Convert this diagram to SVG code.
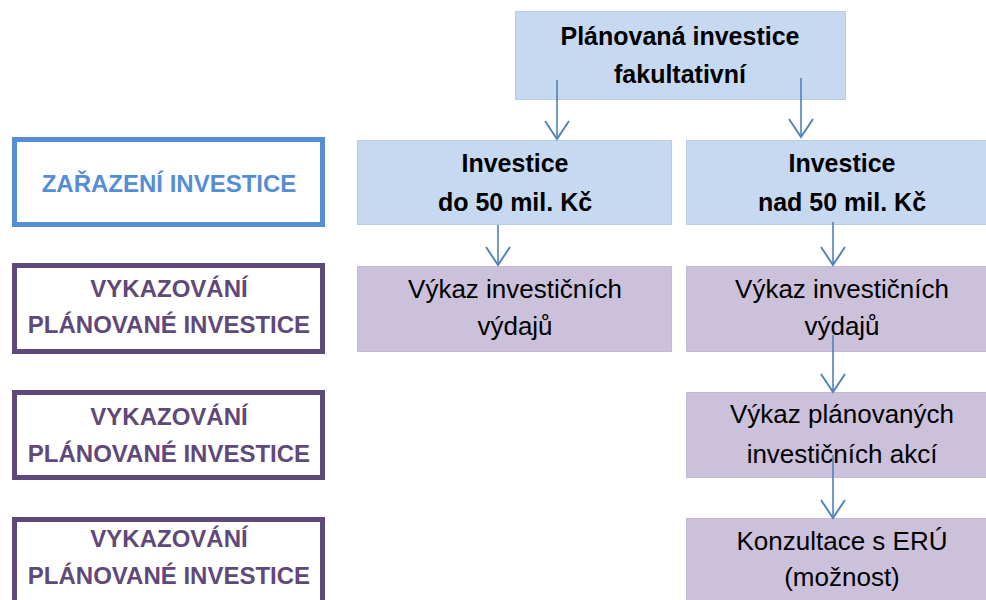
<svg xmlns="http://www.w3.org/2000/svg" width="986" height="600" viewBox="0 0 986 600">
<style>
.bb{fill:#c6d9f1;stroke:#b8cde6;stroke-width:1}
.pb{fill:#ccc1da;stroke:#c4b8d4;stroke-width:1}
.lb{fill:#fff;stroke:#558ed5;stroke-width:5}
.lp{fill:#fff;stroke:#5f497a;stroke-width:5}
text{font-family:"Liberation Sans",Arial,sans-serif;font-size:26px;text-anchor:middle;fill:#000}
.b{font-weight:bold;font-size:25px}
.tb{fill:#558ed5;font-weight:bold;font-size:24px}
.tp{fill:#5f497a;font-weight:bold;font-size:24px}
.c line{stroke:#4f81bd;stroke-width:1.6;marker-end:url(#ah)}
</style>
<defs>
<marker id="ah" markerWidth="20" markerHeight="24" refX="15" refY="10" orient="auto" markerUnits="userSpaceOnUse" viewBox="0 0 16 20" overflow="visible">
<polyline points="0,0 15,10 0,20" fill="none" stroke="#4f81bd" stroke-width="1.6"/>
</marker>
</defs>
<rect width="986" height="600" fill="#fff"/>
<g id="n-top"><rect class="bb" x="515.5" y="11.5" width="330" height="88"/><text class="b" x="680" y="45">Plánovaná investice</text><text class="b" x="680" y="83">fakultativní</text></g>
<g id="n-do50"><rect class="bb" x="357.5" y="140.5" width="314" height="84"/><text class="b" x="515" y="172">Investice</text><text class="b" x="515" y="211">do 50 mil. Kč</text></g>
<g id="n-nad50"><rect class="bb" x="686.5" y="140.5" width="312" height="84"/><text class="b" x="842" y="172">Investice</text><text class="b" x="842" y="211">nad 50 mil. Kč</text></g>
<g id="n-vyk1"><rect class="pb" x="357.5" y="266.5" width="314" height="85"/><text x="515" y="298">Výkaz investičních</text><text x="515" y="335">výdajů</text></g>
<g id="n-vyk2"><rect class="pb" x="686.5" y="266.5" width="312" height="85"/><text x="842" y="298">Výkaz investičních</text><text x="842" y="335">výdajů</text></g>
<g id="n-vyk3"><rect class="pb" x="686.5" y="392.5" width="312" height="85"/><text x="842" y="423">Výkaz plánovaných</text><text x="842" y="463">investičních akcí</text></g>
<g id="n-konz"><rect class="pb" x="686.5" y="518.5" width="312" height="90"/><text x="842" y="550">Konzultace s ERÚ</text><text x="842" y="586">(možnost)</text></g>
<g id="l-zar"><rect class="lb" x="14.5" y="139.5" width="308" height="85"/><text class="tb" x="169" y="192">ZAŘAZENÍ INVESTICE</text></g>
<g id="l-vyk1"><rect class="lp" x="14.5" y="265.5" width="308" height="86"/><text class="tp" x="169" y="297">VYKAZOVÁNÍ</text><text class="tp" x="169" y="333">PLÁNOVANÉ INVESTICE</text></g>
<g id="l-vyk2"><rect class="lp" x="14.5" y="392.5" width="308" height="85"/><text class="tp" x="169" y="425">VYKAZOVÁNÍ</text><text class="tp" x="169" y="462">PLÁNOVANÉ INVESTICE</text></g>
<g id="l-vyk3"><rect class="lp" x="14.5" y="519.5" width="308" height="90"/><text class="tp" x="169" y="547">VYKAZOVÁNÍ</text><text class="tp" x="169" y="584">PLÁNOVANÉ INVESTICE</text></g>
<g class="c" id="connectors">
<line x1="557" y1="80" x2="557" y2="139"/>
<line x1="801" y1="78" x2="801" y2="137"/>
<line x1="498" y1="225" x2="498" y2="265"/>
<line x1="833" y1="222" x2="833" y2="265"/>
<line x1="833" y1="335" x2="833" y2="392"/>
<line x1="833" y1="455" x2="833" y2="518"/>
</g>
</svg>
